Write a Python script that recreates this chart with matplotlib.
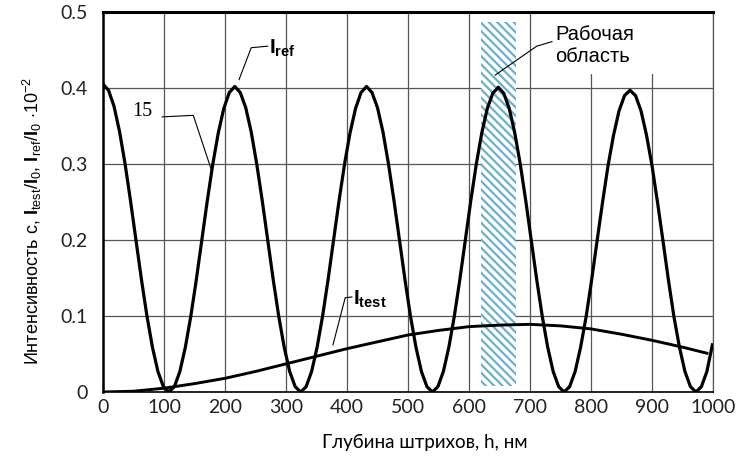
import numpy as np
import matplotlib.pyplot as plt
from matplotlib.patches import Rectangle

plt.rcParams['mathtext.fontset'] = 'custom'
plt.rcParams['mathtext.rm'] = 'Liberation Sans'
plt.rcParams['mathtext.it'] = 'Liberation Sans:italic'
plt.rcParams['mathtext.bf'] = 'Liberation Sans:bold'
plt.rcParams['hatch.linewidth'] = 1.6

h_ref = np.arange(0, 1000, 9)
i_ref = [
    0.405, 0.397, 0.376, 0.343, 0.301, 0.252, 0.200, 0.148, 0.100, 0.059, 0.027, 0.007,
    0.000, 0.007, 0.027, 0.059, 0.100, 0.148, 0.200, 0.252, 0.300, 0.341, 0.373, 0.394,
    0.402, 0.394, 0.374, 0.342, 0.300, 0.252, 0.200, 0.148, 0.100, 0.059, 0.027, 0.007,
    0.000, 0.007, 0.027, 0.059, 0.100, 0.148, 0.200, 0.252, 0.300, 0.341, 0.373, 0.394,
    0.402, 0.394, 0.374, 0.342, 0.300, 0.252, 0.200, 0.148, 0.100, 0.059, 0.027, 0.007,
    0.000, 0.007, 0.027, 0.059, 0.100, 0.148, 0.200, 0.252, 0.300, 0.341, 0.373, 0.393,
    0.401, 0.393, 0.373, 0.341, 0.300, 0.252, 0.200, 0.148, 0.100, 0.059, 0.027, 0.007,
    0.000, 0.007, 0.027, 0.059, 0.099, 0.147, 0.199, 0.250, 0.298, 0.338, 0.370, 0.390,
    0.397, 0.390, 0.370, 0.338, 0.298, 0.250, 0.199, 0.147, 0.099, 0.059, 0.027, 0.007,
    0.000, 0.007, 0.027, 0.062,
]

# Itest
h_test = [0, 50, 100, 150, 200, 250, 300, 350, 400, 450, 500,
          550, 600, 650, 700, 750, 800, 850, 900, 950, 990]
i_test = [0.000, 0.001, 0.005, 0.011, 0.018, 0.027, 0.037, 0.047, 0.057, 0.066, 0.075,
          0.081, 0.086, 0.088, 0.089, 0.087, 0.083, 0.076, 0.068, 0.059, 0.051]

# working region
work_lo, work_hi = 620, 677

fig = plt.figure(figsize=(7.39, 4.59), dpi=100)
ax = fig.add_axes([0.1394, 0.146, 0.8254, 0.8279])

ax.set_xlim(0, 1000)
ax.set_ylim(0, 0.5)
ax.set_xticks(np.arange(0, 1001, 100))
ax.set_yticks([0, 0.1, 0.2, 0.3, 0.4, 0.5])
ax.set_yticklabels(['0', '0.1', '0.2', '0.3', '0.4', '0.5'])
ax.grid(True, color='#555555', linewidth=0.9)
ax.set_axisbelow(True)
ax.tick_params(length=0, labelsize=14, colors='#222222')
ax.tick_params(axis='x', pad=5)
ax.tick_params(axis='y', pad=11)
for lab in ax.get_xticklabels() + ax.get_yticklabels():
    lab.set_family('Lato')

ax.spines['top'].set_linewidth(2.2)
ax.spines['left'].set_linewidth(1.8)
ax.spines['bottom'].set_linewidth(1.2)
ax.spines['right'].set_linewidth(0.9)
ax.spines['right'].set_color('#555555')

ax.add_patch(Rectangle((work_lo, 0.008), work_hi - work_lo, 0.479,
                       facecolor='white', edgecolor='#6aafd0', hatch='\\\\\\\\',
                       linewidth=0, zorder=1.2))
ax.add_patch(Rectangle((712, 0.418), 195, 0.079, facecolor='white',
                       edgecolor='none', zorder=1.1))

ax.plot(h_ref, i_ref, color='black', linewidth=2.3, zorder=3)
ax.plot(h_test, i_test, color='black', linewidth=2.1, zorder=3)

# leaders and labels
ax.plot([223, 243, 270], [0.411, 0.453, 0.455], color='black', lw=0.8, zorder=3)
ax.text(272, 0.452, r'$\mathbf{I}_{\mathbf{ref}}$', fontsize=15, va='center', ha='left')

ax.plot([97, 148, 179], [0.362, 0.364, 0.289], color='black', lw=0.8, zorder=3)
ax.text(48, 0.369, '15', fontsize=14.5, family='Liberation Serif', va='center', ha='left')

ax.plot([377, 397, 408], [0.062, 0.124, 0.125], color='black', lw=0.8, zorder=3)
ax.text(410, 0.122, r'$\mathbf{I}_{\mathbf{test}}$', fontsize=15, va='center', ha='left')

ax.plot([643, 711, 736], [0.417, 0.455, 0.461], color='black', lw=0.8, zorder=3)
ax.text(742, 0.456, 'Рабочая\nобласть', fontsize=14.5, family='Liberation Sans',
        va='center', ha='left', linespacing=1.15, zorder=4)

ax.set_xlabel('Глубина штрихов, h, нм', family='Lato', fontsize=13.5, va='center')
ax.xaxis.set_label_coords(0.528, -0.132)
ax.set_ylabel(r'Интенсивность c, $\mathbf{I}_{\mathrm{test}}$/$\mathbf{I}_0$, '
              r'$\mathbf{I}_{\mathrm{ref}}$/$\mathbf{I}_0$ $\cdot10^{-2}$',
              family='Liberation Sans', fontsize=13, va='center')
ax.yaxis.set_label_coords(-0.116, 0.449)

fig.savefig('out.png', dpi=100)
